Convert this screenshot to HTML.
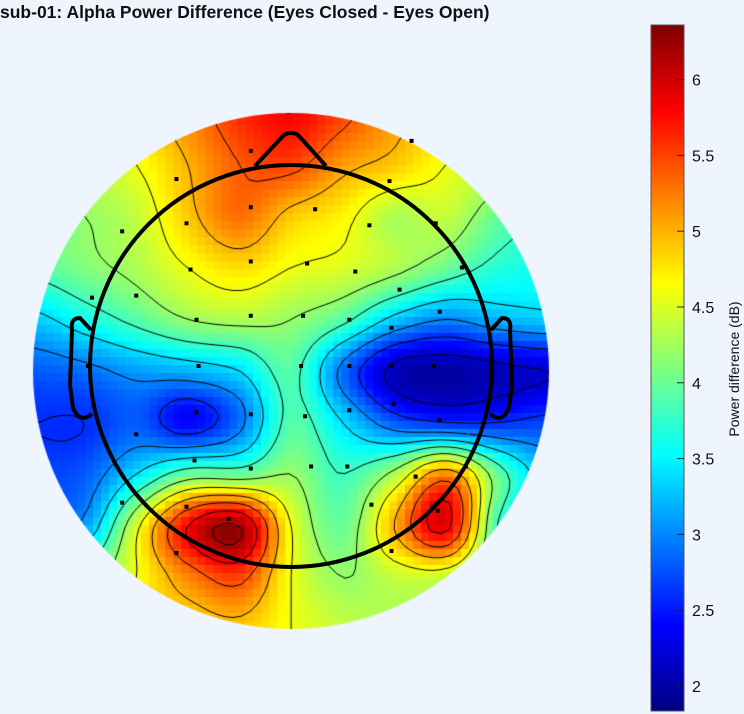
<!DOCTYPE html>
<html><head><meta charset="utf-8"><style>
body{margin:0;background:#eef5fd;width:744px;height:714px;overflow:hidden;font-family:"Liberation Sans",sans-serif;}
#title{position:absolute;left:0;top:2px;font-size:17.5px;font-weight:bold;color:#111;}
svg{position:absolute;left:0;top:0}
</style></head><body>
<div id="title">sub-01: Alpha Power Difference (Eyes Closed - Eyes Open)</div>
<canvas id="topo" width="744" height="714" style="position:absolute;left:0;top:0"></canvas>
<svg id="ov" width="744" height="714"></svg>
<script>
// interpolated power difference (dB) sampled on an 11x11 grid across the scalp (rows: front -> back, cols: left -> right)
const row0  = [4.6,4.6,4.8,5.2,5.6,5.8,5.5,5.1,4.8,4.6,4.6];
const row1  = [4.4,4.4,4.6,5.0,5.4,5.5,5.1,4.9,4.6,4.4,4.2];
const row2  = [4.1,4.2,4.4,4.9,5.3,4.9,4.7,4.3,4.4,4.0,3.8];
const row3  = [3.9,4.1,4.3,4.6,4.8,4.6,4.5,4.3,4.0,3.7,3.6];
const row4  = [3.3,3.6,3.9,4.2,4.3,4.2,3.9,3.3,3.0,3.2,3.3];
const row5  = [2.8,2.9,3.1,3.2,3.4,3.9,2.9,2.1,2.0,2.1,2.2];
const row6  = [2.6,2.6,2.8,2.4,2.9,3.9,3.4,2.8,2.6,2.6,2.7];
const row7  = [2.7,2.8,3.4,4.0,4.0,4.2,3.8,4.3,5.2,4.0,3.2];
const row8  = [3.0,3.1,4.5,5.8,6.2,4.6,4.0,5.0,5.9,3.8,3.2];
const row9  = [3.6,4.0,4.6,5.2,5.5,4.6,4.2,4.4,4.4,3.8,3.4];
const row10 = [4.4,4.5,4.8,4.8,4.9,4.6,4.4,4.3,4.3,4.0,3.8];
const gridRows = [row0,row1,row2,row3,row4,row5,row6,row7,row8,row9,row10];
// electrode positions (normalized head coords, unit = inner head radius)
const chanX = [-0.2,0.60,-0.57,0.49,-0.2,0.12,0.39,0.72,-0.52,-0.84,-0.5,-0.2,0.08,0.32,0.85,-0.99,-0.77,0.54,-0.47,-0.2,0.06,0.29,0.5,0.74,-1.01,-0.46,0.05,0.29,0.5,0.71,-0.47,-0.2,0.07,0.29,0.51,0.74,-0.77,-0.48,-0.2,0.1,0.28,0.62,0.87,-0.84,-0.52,-0.31,0.4,0.73,-0.57,0.5];
const chanY = [-1.07,-1.12,-0.93,-0.92,-0.79,-0.78,-0.70,-0.71,-0.71,-0.67,-0.48,-0.52,-0.51,-0.47,-0.49,-0.34,-0.35,-0.38,-0.23,-0.25,-0.25,-0.23,-0.19,-0.27,0.00,0.00,0.00,0.00,0.00,0.00,0.23,0.24,0.25,0.22,0.19,0.27,0.34,0.47,0.51,0.50,0.50,0.55,0.50,0.68,0.70,0.76,0.69,0.72,0.93,0.92];
const cbTicks = [2,2.5,3,3.5,4,4.5,5,5.5,6];
const vmin=1.835, vmax=6.36;
const cx=291, cy=366, R=201, RD=258, dcy=371;
const gx0=cx-RD, gy0=dcy-RD, gs=2*RD/10;
const px=x=>cx+x*R, py=y=>cy+y*R;
function jet(t){t=Math.max(0,Math.min(1,t));
 const f=(a)=>Math.max(0,Math.min(1,1.5-Math.abs(4*t-a)));
 return [f(3)*255,f(2)*255,f(1)*255].map(Math.round);}
function g(j,i){j=Math.max(0,Math.min(10,j));i=Math.max(0,Math.min(10,i));return gridRows[j][i];}
function cr(p0,p1,p2,p3,t){return p1+0.5*t*(p2-p0+t*(2*p0-5*p1+4*p2-p3+t*(3*(p1-p2)+p3-p0)));}
function interp(x,y){const u=(x-gx0)/gs,v=(y-gy0)/gs;const i=Math.floor(u),j=Math.floor(v),tu=u-i,tv=v-j;
 const r=[];for(let k=-1;k<3;k++)r.push(cr(g(j+k,i-1),g(j+k,i),g(j+k,i+1),g(j+k,i+2),tu));
 return cr(r[0],r[1],r[2],r[3],tv);}
const ctx=document.getElementById('topo').getContext('2d');
ctx.save();ctx.beginPath();ctx.arc(cx,dcy,RD,0,Math.PI*2);ctx.clip();
const B=8,x0=cx-RD-8,y0=dcy-RD-8,N=Math.ceil((2*RD+16)/B)+1;
const G=[];
for(let j=0;j<N;j++){G[j]=[];for(let i=0;i<N;i++){G[j][i]=interp(x0+i*B,y0+j*B);}}
for(let j=0;j<N;j++)for(let i=0;i<N;i++){const c=jet((G[j][i]-vmin)/(vmax-vmin));ctx.fillStyle=`rgb(${c})`;ctx.fillRect(x0+i*B-B/2,y0+j*B-B/2,B,B);}
// contours
ctx.strokeStyle='#000';ctx.lineWidth=1;ctx.beginPath();
for(let L=2.2;L<6.3;L+=0.4){
 for(let j=0;j<N-1;j++)for(let i=0;i<N-1;i++){
  const v=[G[j][i],G[j][i+1],G[j+1][i+1],G[j+1][i]];
  const P=[[i,j],[i+1,j],[i+1,j+1],[i,j+1]];const pts=[];
  for(let k=0;k<4;k++){const a=v[k],b=v[(k+1)%4];if((a<L)!==(b<L)){const t=(L-a)/(b-a);const pa=P[k],pb=P[(k+1)%4];pts.push([x0+(pa[0]+t*(pb[0]-pa[0]))*B,y0+(pa[1]+t*(pb[1]-pa[1]))*B]);}}
  if(pts.length>=2){ctx.moveTo(pts[0][0],pts[0][1]);ctx.lineTo(pts[1][0],pts[1][1]);}
  if(pts.length==4){ctx.moveTo(pts[2][0],pts[2][1]);ctx.lineTo(pts[3][0],pts[3][1]);}
 }}
ctx.stroke();
ctx.restore();
// colorbar
const cbx=651,cbw=33,cbt=25,cbb=711;
for(let y=cbt;y<cbb;y++){const v=vmax-(y-cbt)/(cbb-cbt)*(vmax-vmin);const c=jet((v-vmin)/(vmax-vmin));ctx.fillStyle=`rgb(${c})`;ctx.fillRect(cbx,y,cbw,1);}
const NS='http://www.w3.org/2000/svg',svg=document.getElementById('ov');
function mk(t,a){const e=document.createElementNS(NS,t);for(const k in a)e.setAttribute(k,a[k]);svg.appendChild(e);return e;}
const cbr=mk('rect',{x:cbx,y:cbt,width:cbw,height:cbb-cbt,fill:'none',stroke:'#555','stroke-width':1});


const yv=v=>cbt+(vmax-v)/(vmax-vmin)*(cbb-cbt);
cbTicks.forEach(v=>{const y=yv(v);
 mk('line',{x1:cbx+cbw-7,x2:cbx+cbw,y1:y,y2:y,stroke:'#222','stroke-width':1});
 const t=mk('text',{x:692,y:y+6,'font-size':16,'font-family':'Liberation Sans',fill:'#111'});t.textContent=v;
 
 });
const lab=mk('text',{x:0,y:0,transform:'translate(739,369) rotate(-90)','text-anchor':'middle','font-size':14,'font-family':'Liberation Sans',fill:'#111'});lab.textContent='Power difference (dB)';


// head
const head=mk('circle',{cx:cx,cy:cy,r:R,fill:'none',stroke:'#000','stroke-width':4});


const nose=mk('path',{d:'M255,166 L284,135 Q291,131 298,135 L326,166',fill:'none',stroke:'#000','stroke-width':4});


const el=mk('path',{d:'M91,330 L80,318 Q70,318 72,330 L70,385 L73,408 Q80,424 92,414',fill:'none',stroke:'#000','stroke-width':4});


const er=mk('path',{d:'M491,330 L502,318 Q512,318 510,330 L512,385 L509,408 Q502,424 490,414',fill:'none',stroke:'#000','stroke-width':4});


for(let i=0;i<chanX.length;i++){const r=mk('rect',{x:px(chanX[i])-2,y:py(chanY[i])-2,width:4,height:4,fill:'#000'});
 
 }
</script>
</body></html>
